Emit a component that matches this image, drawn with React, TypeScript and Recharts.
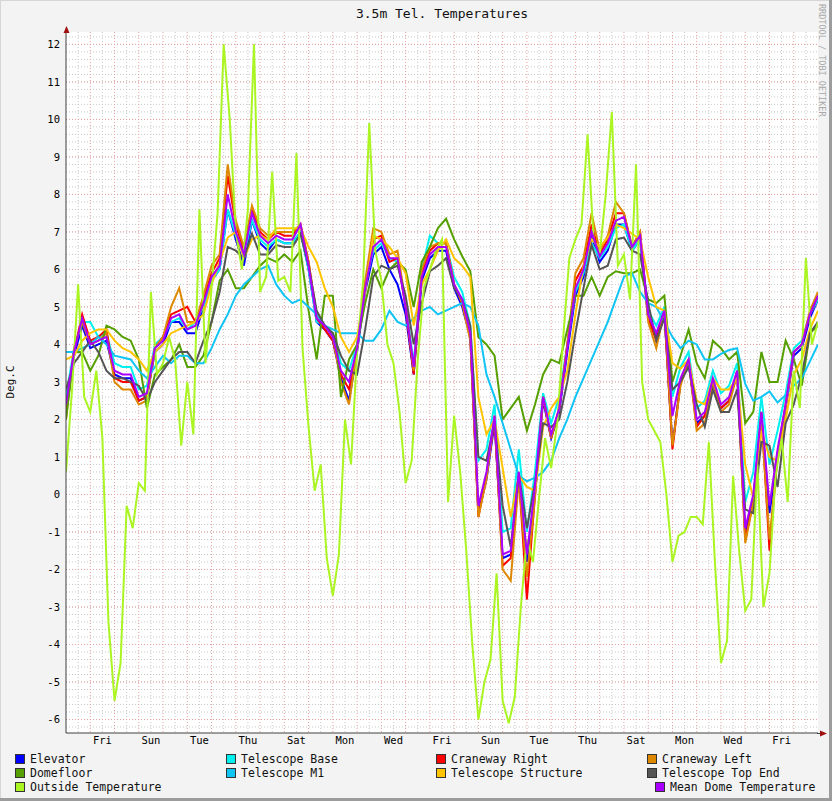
import React from "react";
import { LineChart, Line, XAxis, YAxis, CartesianGrid } from "recharts";

// time axis in days from Thursday 00:00
const DOME_STEP = 1 / 3;
const OUTSIDE_STEP = 1 / 4;

const dayTicks = [1.5, 3.5, 5.5, 7.5, 9.5, 11.5, 13.5, 15.5, 17.5, 19.5, 21.5, 23.5, 25.5, 27.5, 29.5];
const dayNames = ["Fri", "Sun", "Tue", "Thu", "Sat", "Mon", "Wed", "Fri", "Sun", "Tue", "Thu", "Sat", "Mon", "Wed", "Fri"];
const yTicks = [-6, -5, -4, -3, -2, -1, 0, 1, 2, 3, 4, 5, 6, 7, 8, 9, 10, 11, 12];

const elevator = [
  2.2, 3.7, 4.5, 3.9, 4.0, 4.1, 3.2, 3.1, 3.1, 2.5,
  2.6, 3.8, 4.0, 4.6, 4.6, 4.3, 4.3, 5.0, 5.7, 6.0,
  7.6, 6.8, 6.1, 7.3, 6.7, 6.5, 6.8, 6.7, 6.7, 7.0,
  6.0, 4.6, 4.4, 4.1, 3.1, 2.5, 3.8, 5.4, 6.4, 6.6,
  6.0, 5.6, 4.8, 3.2, 5.7, 6.3, 6.5, 6.5, 5.5, 5.0,
  4.2, -0.5, 0.4, 1.9, -1.7, -1.6, 0.5, -1.8, 0.0, 2.5,
  1.5, 2.2, 3.8, 5.3, 5.8, 6.9, 6.2, 6.5, 7.2, 7.2,
  6.5, 6.8, 4.7, 4.2, 4.8, 1.3, 3.0, 3.5, 1.9, 2.1,
  3.0, 2.3, 2.5, 3.2, -1.0, -0.1, 2.1, -0.5, 1.0, 2.3,
  3.7, 3.9, 4.7, 5.2,
];

const telescopeBase = [
  2.6, 3.9, 4.6, 4.6, 4.2, 4.3, 3.5, 3.4, 3.4, 2.8,
  2.9, 4.0, 4.2, 4.6, 4.7, 4.4, 4.6, 5.0, 5.7, 6.0,
  7.6, 6.9, 6.4, 7.3, 6.8, 6.6, 6.8, 6.7, 6.7, 7.0,
  6.0, 4.6, 4.5, 4.3, 3.5, 3.3, 4.0, 5.6, 6.5, 6.7,
  6.3, 6.2, 5.1, 3.5, 6.0, 6.9, 6.7, 6.7, 5.8, 5.4,
  4.5, 0.9, 1.2, 2.4, -1.0, -0.9, 1.2, -1.0, 0.6, 2.7,
  1.9, 2.6, 4.0, 5.4, 5.9, 6.7, 6.3, 6.6, 7.1, 7.2,
  6.5, 6.8, 4.9, 4.5, 5.0, 2.6, 3.4, 3.8, 2.3, 2.5,
  3.3, 2.7, 2.9, 3.5, -0.2, 0.6, 2.6, 0.8, 1.7, 2.7,
  3.9, 4.1, 4.8, 5.2,
];

const cranewayRight = [
  2.3, 3.8, 4.8, 4.1, 4.2, 4.4, 3.1, 3.0, 3.0, 2.5,
  2.6, 3.9, 4.2, 4.8, 4.9, 5.0, 4.6, 5.2, 5.9, 6.3,
  8.5, 7.2, 6.5, 7.6, 7.0, 6.8, 7.0, 6.9, 6.9, 7.2,
  6.2, 4.7, 4.4, 4.1, 3.2, 2.8, 3.9, 5.6, 6.8, 6.9,
  6.2, 6.3, 5.0, 3.2, 5.9, 6.5, 6.7, 6.7, 5.6, 5.1,
  4.2, -0.6, 0.5, 2.0, -1.9, -1.7, 0.5, -2.8, 0.0, 2.6,
  1.5, 2.3, 4.0, 5.7, 6.1, 7.2, 6.4, 6.8, 7.5, 7.5,
  6.6, 7.0, 4.7, 4.1, 4.9, 1.2, 3.0, 3.6, 1.8, 2.1,
  3.0, 2.3, 2.5, 3.3, -1.2, -0.2, 2.2, -1.5, 1.1, 2.4,
  3.8, 4.0, 4.8, 5.3,
];

const cranewayLeft = [
  2.0, 3.9, 4.6, 4.0, 4.1, 4.3, 3.0, 2.8, 2.8, 2.4,
  2.5, 3.9, 4.2, 5.0, 5.5, 4.6, 4.6, 5.3, 6.1, 6.4,
  8.8, 7.3, 6.6, 7.7, 7.1, 6.9, 7.0, 7.0, 7.0, 7.2,
  6.2, 4.8, 4.5, 4.2, 3.0, 2.4, 3.9, 5.7, 7.1, 7.0,
  6.4, 6.5, 5.1, 3.3, 6.0, 6.6, 6.7, 6.7, 5.6, 5.1,
  4.1, -0.6, 0.4, 2.1, -2.0, -2.3, 0.4, -2.2, -0.1, 2.6,
  1.5, 2.3, 4.0, 5.9, 6.3, 7.5, 6.5, 6.9, 7.8, 7.5,
  6.6, 7.0, 4.6, 3.9, 4.9, 1.3, 2.9, 3.6, 1.7, 1.9,
  3.0, 2.2, 2.4, 3.2, -1.3, -0.2, 2.0, -1.2, 1.0, 2.3,
  3.8, 4.0, 4.9, 5.4,
];

const domefloor = [
  2.0, 3.8, 3.8, 3.3, 3.7, 4.5, 4.4, 4.2, 4.1, 3.6,
  2.3, 3.2, 3.4, 3.6, 4.0, 3.4, 3.4, 3.7, 4.6, 5.7,
  6.0, 5.5, 5.5, 5.8, 6.1, 6.3, 6.2, 6.4, 6.2, 6.5,
  4.9, 3.6, 5.3, 5.3, 2.6, 3.6, 4.0, 5.1, 6.0, 5.5,
  6.0, 6.2, 6.0, 5.0, 6.2, 6.6, 7.1, 7.35, 6.8, 6.35,
  5.95, 4.2, 4.0, 3.7, 2.0, 2.3, 2.6, 1.7, 2.4, 3.2,
  3.6, 3.5, 4.4, 5.3, 5.3, 5.8, 5.3, 5.8, 5.95, 5.9,
  5.9, 6.0, 5.2, 5.1, 5.3, 3.0, 3.7, 4.4, 3.5, 3.1,
  4.1, 3.9, 3.6, 3.8, 1.9, 2.2, 3.8, 3.0, 3.0, 4.1,
  3.6, 2.9, 4.3, 4.5,
];

const telescopeM1 = [
  3.8, 3.8, 3.9, 4.0, 4.2, 4.0, 3.7, 3.65, 3.6, 3.3,
  3.1, 3.4, 3.7, 3.5, 3.7, 3.7, 3.5, 3.5, 3.9, 4.4,
  4.8, 5.3, 5.6, 5.8, 6.0, 6.1, 5.6, 5.3, 5.1, 5.2,
  5.0, 4.8, 4.5, 4.4, 4.3, 4.3, 4.3, 4.1, 4.1, 4.4,
  4.9, 4.6, 4.5, 4.7, 4.9, 5.0, 4.8, 4.9, 5.0, 5.1,
  5.0, 4.5, 3.2, 2.6, 1.9, 1.2, 0.5, 0.35, 0.45, 0.6,
  0.9, 1.5, 2.0, 2.6, 3.1, 3.6, 4.1, 4.6, 5.2, 5.8,
  5.9, 5.4, 5.1, 5.0, 4.6, 4.2, 3.9, 4.1, 4.0, 3.6,
  3.6, 3.75, 3.85, 3.9, 2.95, 2.5, 2.6, 2.75, 2.45, 2.65,
  2.9, 3.1, 3.55, 4.0,
];

const telescopeStructure = [
  3.6, 3.7, 4.1, 4.3, 4.4, 4.4, 4.1, 3.9, 3.8, 3.6,
  3.3, 3.8, 4.0, 4.3, 4.4, 4.5, 4.6, 4.8, 5.6, 6.2,
  6.85, 7.0, 6.3, 6.8, 6.9, 6.8, 7.1, 7.1, 7.1, 7.1,
  6.6, 6.2, 5.5, 5.0, 4.2, 3.8, 4.2, 5.4, 6.9, 6.8,
  6.6, 6.3, 5.9, 4.5, 5.6, 6.0, 6.5, 6.8, 6.3, 6.1,
  5.8, 2.6, 1.6, 2.0, 0.7, -0.6, 0.5, 0.2, 0.1, 1.8,
  2.3, 2.6, 3.3, 4.8, 6.1, 6.8, 6.6, 6.85, 7.2, 7.1,
  6.95, 6.8, 5.8, 5.0, 4.9, 3.5, 3.35, 3.6, 2.5, 2.4,
  3.1, 2.8, 2.8, 3.1, 0.8, -0.1, 1.7, 1.0, 0.9, 2.0,
  3.2, 3.6, 4.4, 4.9,
];

const telescopeTopEnd = [
  2.8, 3.5, 3.8, 4.1, 3.8, 3.3, 3.1, 3.1, 3.0, 2.9,
  2.5, 3.0, 3.3, 3.6, 3.8, 3.8, 3.5, 4.1, 4.6, 5.4,
  6.6, 6.5, 6.3, 6.95, 6.4, 6.4, 6.65, 6.6, 6.6, 6.95,
  6.1, 4.9, 4.5, 4.3, 3.7, 3.3, 3.2, 4.4, 5.8, 6.1,
  6.0, 6.1, 5.3, 4.0, 5.1, 5.95, 6.1, 6.3, 5.5, 5.2,
  4.5, 1.0, 0.9, 1.95, -0.3, -1.4, 0.55, -0.9, 0.3, 1.9,
  1.8, 2.0, 3.0, 4.3, 5.5, 6.65, 6.0, 6.1, 6.8, 6.85,
  6.5, 6.4, 5.1, 4.1, 4.7, 2.8, 3.0, 3.4, 2.4, 1.8,
  2.8, 2.2, 2.2, 2.8, -0.4, -0.5, 1.4, 1.3, 0.2, 1.9,
  2.4, 3.2, 4.3, 4.6,
];

const outsideTemp = [
  0.6, 2.8, 5.6, 2.6, 2.2, 3.3, 1.5, -3.4, -5.5, -4.5,
  -0.3, -0.9, 0.3, 0.1, 5.4, 3.2, 3.5, 4.2, 3.6, 1.3,
  3.0, 1.6, 7.6, 3.5, 5.5, 7.5, 12.0, 10.0, 7.0, 6.0,
  7.6, 12.0, 5.4, 5.8, 8.6, 5.7, 5.8, 5.4, 9.1, 3.9,
  1.8, 0.1, 0.8, -1.7, -2.7, -1.6, 2.0, 0.8, 3.8, 5.7,
  9.9, 6.5, 5.7, 4.0, 3.5, 2.2, 0.3, 0.9, 3.6, 5.5,
  6.0, 6.5, 6.8, -0.2, 2.1, 0.6, -1.5, -4.0, -6.0, -5.0,
  -4.4, -2.1, -5.5, -6.1, -5.4, -3.0, -1.2, -1.8, -0.1, 1.5,
  0.7, 1.9, 4.2, 6.3, 6.8, 7.2, 9.6, 6.8, 6.4, 8.0,
  10.2, 6.1, 6.4, 5.2, 8.8, 3.0, 2.0, 1.7, 1.4, 0.0,
  -1.8, -1.1, -1.0, -0.6, -0.6, -0.8, 1.4, -1.8, -4.5, -3.9,
  0.5, -1.5, -3.1, -2.8, 0.8, -3.0, -2.1, 0.5, 1.5, -0.2,
  3.3, 2.3, 6.3, 4.0, 4.6,
];

const meanDome = [
  2.4, 3.8, 4.7, 4.0, 4.1, 4.2, 3.3, 3.2, 3.2, 2.6,
  2.7, 3.9, 4.1, 4.7, 4.8, 4.4, 4.5, 5.1, 5.8, 6.1,
  8.0, 7.0, 6.4, 7.5, 6.9, 6.7, 6.9, 6.8, 6.8, 7.2,
  6.1, 4.7, 4.5, 4.2, 3.3, 3.0, 3.9, 5.5, 6.6, 6.8,
  6.3, 6.3, 5.0, 3.4, 5.8, 6.4, 6.6, 6.6, 5.6, 5.2,
  4.3, -0.3, 0.6, 2.1, -1.6, -1.5, 0.6, -1.6, 0.2, 2.6,
  1.6, 2.3, 3.9, 5.5, 6.0, 7.0, 6.35, 6.7, 7.3, 7.4,
  6.6, 6.9, 4.8, 4.3, 4.9, 2.1, 3.1, 3.6, 2.0, 2.2,
  3.1, 2.4, 2.6, 3.3, -0.9, 0.0, 2.2, -0.3, 1.2, 2.4,
  3.8, 4.0, 4.8, 5.3,
];

const domeRows = meanDome.map((_, i) => ({
  t: i * DOME_STEP,
  elevator: elevator[i],
  base: telescopeBase[i],
  craneRight: cranewayRight[i],
  craneLeft: cranewayLeft[i],
  floor: domefloor[i],
  m1: telescopeM1[i],
  structure: telescopeStructure[i],
  topEnd: telescopeTopEnd[i],
  mean: meanDome[i],
}));

const outsideRows = outsideTemp.map((v, i) => ({ t: i * OUTSIDE_STEP, outside: v }));

const series = [
  { key: "elevator", name: "Elevator", color: "#0000ff" },
  { key: "base", name: "Telescope Base", color: "#00f0f0" },
  { key: "craneRight", name: "Craneway Right", color: "#ff0000" },
  { key: "craneLeft", name: "Craneway Left", color: "#dd8800" },
  { key: "floor", name: "Domefloor", color: "#55a000" },
  { key: "m1", name: "Telescope M1", color: "#10c4f4" },
  { key: "structure", name: "Telescope Structure", color: "#ffc400" },
  { key: "topEnd", name: "Telescope Top End", color: "#555555" },
];

const FONT = "'DejaVu Sans Mono', 'Liberation Mono', monospace";

// grid positions
const minorH: number[] = [];
for (let v = -6.2; v <= 12.21; v += 0.2) minorH.push(Math.round(v * 10) / 10);
const majorH = yTicks;
const noonV: number[] = [];
const midnightV: number[] = [];
for (let d = 0; d < 31; d++) {
  noonV.push(d + 0.5);
  if (d > 0) midnightV.push(d);
}

const legendItems = [
  { name: "Elevator", color: "#0000ff", x: 15, row: 0 },
  { name: "Telescope Base", color: "#00f0f0", x: 226, row: 0 },
  { name: "Craneway Right", color: "#ff0000", x: 436, row: 0 },
  { name: "Craneway Left", color: "#dd8800", x: 647, row: 0 },
  { name: "Domefloor", color: "#55a000", x: 15, row: 1 },
  { name: "Telescope M1", color: "#10c4f4", x: 226, row: 1 },
  { name: "Telescope Structure", color: "#ffc400", x: 436, row: 1 },
  { name: "Telescope Top End", color: "#555555", x: 647, row: 1 },
  { name: "Outside Temperature", color: "#aaf522", x: 15, row: 2 },
  { name: "Mean Dome Temperature", color: "#aa00ff", x: 655, row: 2 },
];

export default function App() {
  return (
    <div
      style={{
        position: "absolute",
        left: 0,
        top: 0,
        width: 832,
        height: 801,
        background: "#f3f3f3",
        fontFamily: FONT,
      }}
    >
      <LineChart
        width={832}
        height={801}
        margin={{ top: 32, right: 14, bottom: 48, left: 6 }}
        style={{ position: "absolute", left: 0, top: 0 }}
      >
        <CartesianGrid
          fill="#ffffff"
          stroke="#c8c8c8"
          strokeDasharray="1 2"
          horizontalValues={minorH}
          verticalValues={noonV}
        />
        <CartesianGrid
          stroke="#e8a0a0"
          strokeDasharray="1 2"
          horizontalValues={majorH}
          verticalValues={midnightV}
        />
        <XAxis
          type="number"
          dataKey="t"
          domain={[0, 31]}
          allowDataOverflow
          ticks={dayTicks}
          tickFormatter={(v: number) => dayNames[dayTicks.indexOf(v)] ?? ""}
          interval={0}
          height={20}
          tickSize={0}
          tickMargin={4}
          axisLine={{ stroke: "#404040" }}
          tick={{ fill: "#000", fontSize: 10.5, fontFamily: FONT }}
        />
        <YAxis
          type="number"
          domain={[-6.36, 12.33]}
          allowDataOverflow
          ticks={yTicks}
          interval={0}
          width={60}
          tickSize={0}
          tickMargin={6}
          axisLine={{ stroke: "#404040" }}
          tick={{ fill: "#000", fontSize: 10.5, fontFamily: FONT }}
        />
        {series.map((s) => (
          <Line
            key={s.key}
            data={domeRows}
            dataKey={s.key}
            name={s.name}
            stroke={s.color}
            strokeWidth={2}
            dot={false}
            type="linear"
            isAnimationActive={false}
          />
        ))}
        <Line
          data={outsideRows}
          dataKey="outside"
          name="Outside Temperature"
          stroke="#aaf522"
          strokeWidth={2}
          dot={false}
          type="linear"
          isAnimationActive={false}
        />
        <Line
          data={domeRows}
          dataKey="mean"
          name="Mean Dome Temperature"
          stroke="#aa00ff"
          strokeWidth={2}
          dot={false}
          type="linear"
          isAnimationActive={false}
        />
      </LineChart>
      <svg
        width={832}
        height={801}
        style={{ position: "absolute", left: 0, top: 0, pointerEvents: "none" }}
      >
        <line x1={0} y1={0.5} x2={832} y2={0.5} stroke="#d6d6d6" />
        <line x1={0.5} y1={0} x2={0.5} y2={801} stroke="#d6d6d6" />
        <line x1={830.5} y1={0} x2={830.5} y2={801} stroke="#9c9c9c" strokeWidth={3} />
        <line x1={0} y1={799.5} x2={832} y2={799.5} stroke="#9c9c9c" strokeWidth={3} />
        <text x={442} y={18} textAnchor="middle" fontSize={13} fill="#111" fontFamily={FONT}>
          3.5m Tel. Temperatures
        </text>
        <text
          x={14}
          y={382}
          textAnchor="middle"
          fontSize={11}
          fill="#111"
          fontFamily={FONT}
          transform="rotate(-90 14 382)"
        >
          Deg.C
        </text>
        <text
          x={819}
          y={4}
          fontSize={8.5}
          fill="#a8a8a8"
          fontFamily={FONT}
          transform="rotate(90 819 4)"
        >
          RRDTOOL / TOBI OETIKER
        </text>
        <line x1={66.5} y1={27} x2={66.5} y2={33} stroke="#404040" />
        <polygon points="63.5,33 69.5,33 66.5,26" fill="#a01010" />
        <line x1={817} y1={733.5} x2={821} y2={733.5} stroke="#404040" />
        <polygon points="820,730.5 820,736.5 827,733.5" fill="#a01010" />
        {legendItems.map((it) => {
          const cy = 759 + it.row * 14;
          return (
            <g key={it.name}>
              <rect x={it.x + 0.5} y={cy - 4.5} width={9} height={9} fill={it.color} stroke="#333" />
              <text x={it.x + 15} y={cy + 4} fontSize={11.5} fill="#111" fontFamily={FONT}>
                {it.name}
              </text>
            </g>
          );
        })}
      </svg>
    </div>
  );
}
